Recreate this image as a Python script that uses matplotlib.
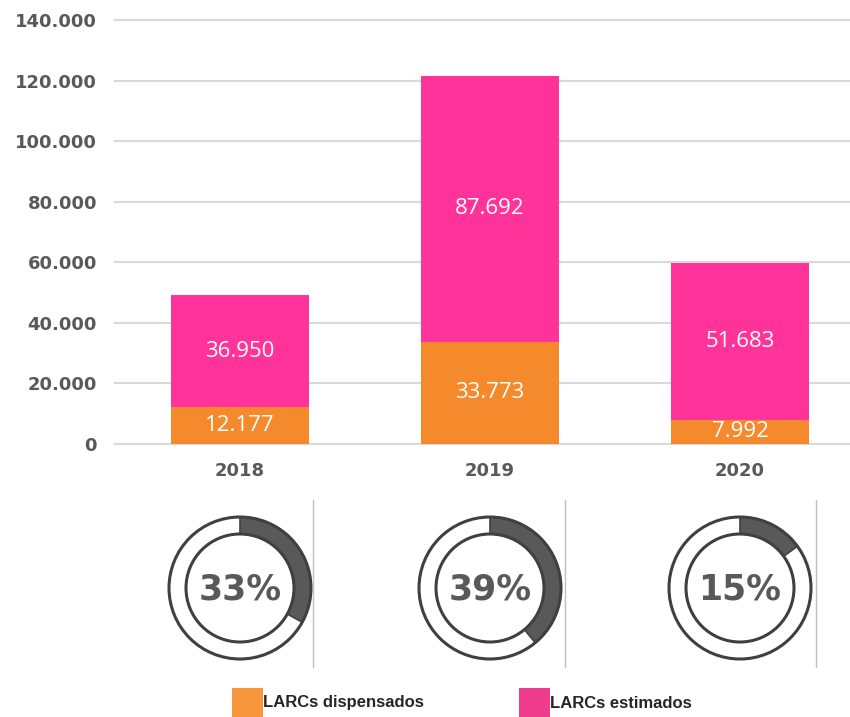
import numpy as np
import matplotlib
matplotlib.use('Agg')
import matplotlib.pyplot as plt
from matplotlib.patches import Wedge, Circle, Rectangle

# ---Data
years = ['2018', '2019', '2020']
dispensados = [12177, 33773, 7992]
estimados = [36950, 87692, 51683]
pct = [33, 39, 15]
yticks = [0, 20000, 40000, 60000, 80000, 100000, 120000, 140000]

ORANGE = '#F58A2D'
PINK = '#FF3399'
GREY = '#595959'
W, H = 850, 717


def fmt(v):
    return f'{v:,}'.replace(',', '.')


fig = plt.figure(figsize=(W / 100, H / 100), dpi=100)

# ===Stacked bars
ax = fig.add_axes([115 / W, (H - 444) / H, 735 / W, 424 / H])
x = np.arange(len(years))
ax.bar(x, dispensados, width=0.552, color=ORANGE, zorder=3)
ax.bar(x, estimados, width=0.552, bottom=dispensados, color=PINK, zorder=3)

for i in range(len(years)):
    ax.text(x[i], dispensados[i] / 2, fmt(dispensados[i]), ha='center', va='center',
            color='white', fontsize=16, family='Open Sans', zorder=4)
    ax.text(x[i], dispensados[i] + estimados[i] / 2, fmt(estimados[i]), ha='center',
            va='center', color='white', fontsize=16, family='Open Sans', zorder=4)

ax.set_xlim(-0.5, 2.44)
ax.set_ylim(0, 140000)
ax.set_yticks(yticks)
ax.set_yticklabels([fmt(v) for v in yticks])
ax.set_xticks(x)
ax.set_xticklabels(years)
for lab in ax.get_yticklabels() + ax.get_xticklabels():
    lab.set_fontweight('bold')
    lab.set_color(GREY)
    lab.set_fontsize(13)
ax.tick_params(axis='y', length=0, pad=13)
ax.tick_params(axis='x', length=0, pad=13)
for s in ax.spines.values():
    s.set_visible(False)
ax.yaxis.grid(True, color='#D9D9D9', linewidth=1.5, zorder=0)
ax.set_axisbelow(True)
for line in ax.yaxis.get_gridlines():
    line.set_clip_on(False)

# ===Donuts and legend (pixel coordinates)
ov = fig.add_axes([0, 0, 1, 1], zorder=-1)
ov.set_xlim(0, W)
ov.set_ylim(0, H)
ov.axis('off')

cx = [240, 490, 740]
cy = H - 588
r_out, r_in = 71, 54
for i, p in enumerate(pct):
    ov.add_patch(Wedge((cx[i], cy), r_out, 90 - 3.6 * p, 90, width=r_out - r_in,
                       facecolor=GREY, edgecolor='#404040', linewidth=1.2))
    ov.add_patch(Circle((cx[i], cy), r_out, fill=False, edgecolor='#404040', linewidth=2.2))
    ov.add_patch(Circle((cx[i], cy), r_in, fill=False, edgecolor='#404040', linewidth=2.2))
    ov.text(cx[i], cy - 2, f'{p}%', ha='center', va='center', fontsize=25,
            fontweight='bold', color=GREY)

for sx in [313, 565, 816]:
    ov.plot([sx, sx], [H - 500, H - 667], color='#BFBFBF', linewidth=1)

# ---Legend
leg = [('LARCs dispensados', '#F7963A', 232), ('LARCs estimados', '#F03C8F', 519)]
for name, col, lx in leg:
    ov.add_patch(Rectangle((lx, H - 717), 31, 29, facecolor=col, edgecolor='none'))
    ov.text(lx + 31, H - 703, name, ha='left', va='center', fontsize=12,
            fontweight='bold', color='#262626', family=['Liberation Sans', 'DejaVu Sans'])

fig.savefig('out.png', dpi=100)
